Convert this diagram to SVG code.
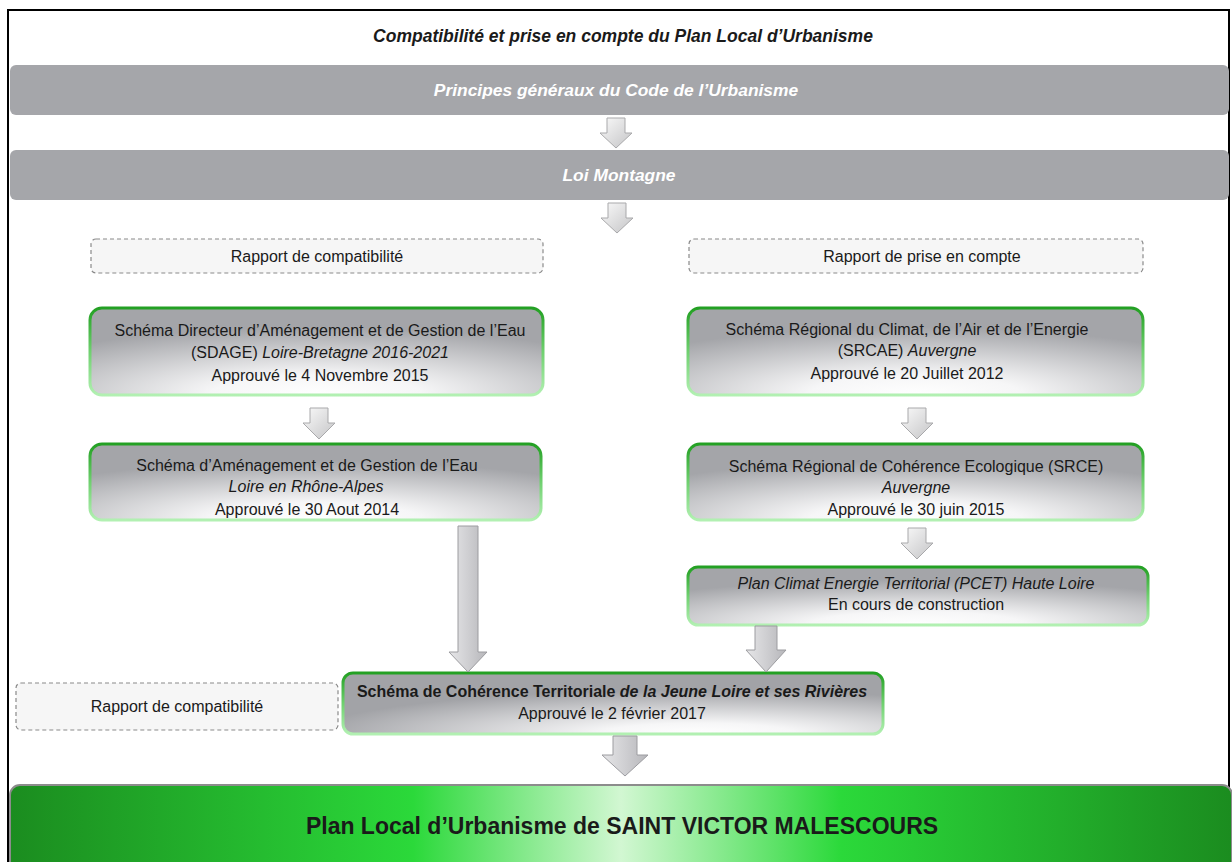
<svg xmlns="http://www.w3.org/2000/svg" width="1232" height="862" viewBox="0 0 1232 862">
<defs>
<radialGradient id="boxFill" cx="0.5" cy="1" r="0.78">
<stop offset="0" stop-color="#ffffff"/>
<stop offset="0.3" stop-color="#f6f6f7"/>
<stop offset="1" stop-color="#a4a5a9"/>
</radialGradient>
<radialGradient id="scotFill" cx="0.66" cy="1" r="0.72">
<stop offset="0" stop-color="#ffffff"/>
<stop offset="0.25" stop-color="#f6f6f7"/>
<stop offset="1" stop-color="#a2a3a7"/>
</radialGradient>
<linearGradient id="greenStroke" x1="0" y1="0" x2="0" y2="1">
<stop offset="0" stop-color="#23a023"/>
<stop offset="0.5" stop-color="#6fd06f"/>
<stop offset="1" stop-color="#b2f0b2"/>
</linearGradient>
<linearGradient id="arrowFill" x1="0" y1="0" x2="1" y2="1">
<stop offset="0" stop-color="#fafafa"/>
<stop offset="1" stop-color="#c4c4c6"/>
</linearGradient>
<linearGradient id="bigArrowFill" x1="0" y1="0" x2="1" y2="0">
<stop offset="0" stop-color="#e6e6e8"/>
<stop offset="0.5" stop-color="#cfcfd2"/>
<stop offset="1" stop-color="#b6b6ba"/>
</linearGradient>
<linearGradient id="pluFill" x1="0" y1="0" x2="1" y2="0">
<stop offset="0" stop-color="#1b8c1f"/>
<stop offset="0.33" stop-color="#2bd93a"/>
<stop offset="0.5" stop-color="#d2f7d2"/>
<stop offset="0.68" stop-color="#2bd93a"/>
<stop offset="1" stop-color="#1b8c1f"/>
</linearGradient>
</defs>
<style>
.t{font-family:"Liberation Sans",Arial,sans-serif;fill:#1a1a1a;text-anchor:middle}
.s{font-size:16px}
.i{font-style:italic}
.b{font-weight:bold}
.bar{fill:#a5a6aa}
.bartxt{font-family:"Liberation Sans",Arial,sans-serif;fill:#ffffff;font-style:italic;font-weight:bold;font-size:17.4px;text-anchor:middle}
.dash{fill:#f6f6f6;stroke:#8a8a8a;stroke-width:1.2;stroke-dasharray:4 3}
.gbox{fill:url(#boxFill);stroke:url(#greenStroke);stroke-width:3}
.arr{fill:url(#arrowFill);stroke:#a9a9ab;stroke-width:1}
.barr{fill:url(#bigArrowFill);stroke:#9c9ca0;stroke-width:1}
</style>
<rect x="0" y="0" width="1232" height="862" fill="#ffffff"/>
<rect x="8" y="10" width="1221" height="870" fill="none" stroke="#000000" stroke-width="2"/>

<g id="title">
<text class="t b i" x="623" y="42" font-size="17.5">Compatibilité et prise en compte  du Plan Local d’Urbanisme</text>
</g>

<g id="principes">
<rect class="bar" x="10" y="65" width="1219" height="50" rx="6"/>
<text class="bartxt" x="616" y="96">Principes généraux du Code de l’Urbanisme</text>
</g>

<g id="loi-montagne">
<rect class="bar" x="10" y="150" width="1219" height="50" rx="6"/>
<text class="bartxt" x="619" y="181">Loi Montagne</text>
</g>

<g id="rapport-compat-1">
<rect class="dash" x="91" y="239" width="452" height="34" rx="5"/>
<text class="t s" x="317" y="262">Rapport de compatibilité</text>
</g>

<g id="rapport-prise">
<rect class="dash" x="689" y="239" width="454" height="34" rx="5"/>
<text class="t s" x="922" y="262">Rapport de prise en compte</text>
</g>

<g id="sdage">
<rect class="gbox" x="90" y="308" width="453" height="87" rx="12"/>
<text class="t s" x="320" y="336">Schéma Directeur d’Aménagement et de Gestion de l’Eau</text>
<text class="t s" x="320" y="358">(SDAGE) <tspan class="i">Loire-Bretagne 2016-2021</tspan></text>
<text class="t s" x="320" y="381">Approuvé le 4 Novembre 2015</text>
</g>

<g id="sage">
<rect class="gbox" x="90" y="444" width="451" height="76" rx="12"/>
<text class="t s" x="307" y="471">Schéma d’Aménagement et de Gestion de l’Eau</text>
<text class="t s i" x="306" y="492">Loire  en Rhône-Alpes</text>
<text class="t s" x="307" y="515">Approuvé le 30  Aout 2014</text>
</g>

<g id="srcae">
<rect class="gbox" x="688" y="308" width="455" height="87" rx="12"/>
<text class="t s" x="907" y="335">Schéma Régional du Climat, de l’Air et de l’Energie</text>
<text class="t s" x="907" y="356">(SRCAE) <tspan class="i">Auvergne</tspan></text>
<text class="t s" x="907" y="379">Approuvé le 20  Juillet 2012</text>
</g>

<g id="srce">
<rect class="gbox" x="688" y="444" width="455" height="76" rx="12"/>
<text class="t s" x="916" y="472">Schéma Régional de Cohérence Ecologique (SRCE)</text>
<text class="t s i" x="916" y="493">Auvergne</text>
<text class="t s" x="916" y="515">Approuvé le 30  juin 2015</text>
</g>

<g id="pcet">
<rect class="gbox" x="688" y="567" width="460" height="58" rx="10"/>
<text class="t s i" x="916" y="589">Plan Climat  Energie  Territorial (PCET)  Haute Loire</text>
<text class="t s" x="916" y="610">En cours  de construction</text>
</g>

<g id="rapport-compat-2">
<rect class="dash" x="16" y="683" width="322" height="47" rx="5"/>
<text class="t s" x="177" y="712">Rapport de compatibilité</text>
</g>

<g id="scot">
<rect class="gbox" x="343" y="673" width="540" height="61" rx="10" style="fill:url(#scotFill)"/>
<text class="t s b" x="612" y="697">Schéma de Cohérence Territoriale <tspan class="i">de la Jeune Loire et ses Rivières</tspan></text>
<text class="t s" x="612" y="719">Approuvé  le 2 février 2017</text>
</g>

<g id="plu">
<rect x="10" y="785" width="1222" height="90" rx="10" fill="url(#pluFill)" stroke="#8c8c8c" stroke-width="2"/>
<text class="t b" x="622" y="834" font-size="23">Plan Local d’Urbanisme de SAINT VICTOR MALESCOURS</text>
</g>

<g id="connectors">
<path class="arr" d="M607,118 H625 V133 H632 L616,148 L600,133 H607 Z"/>
<path class="arr" d="M608,203 H626 V218 H633 L617,233 L601,218 H608 Z"/>
<path class="arr" d="M310,408 H328 V423 H335 L319,439 L303,423 H310 Z"/>
<path class="arr" d="M908,408 H926 V423 H933 L917,439 L901,423 H908 Z"/>
<path class="arr" d="M908,528 H926 V543 H933 L917,559 L901,543 H908 Z"/>
<path class="barr" d="M458,526 H478 V652 H487 L468,672 L449,652 H458 Z"/>
<path class="barr" d="M755,626 H777 V650 H786 L766,672 L746,650 H755 Z"/>
<path class="barr" d="M613,736 H637 V755 H648 L625,776 L602,755 H613 Z"/>
</g>
</svg>
